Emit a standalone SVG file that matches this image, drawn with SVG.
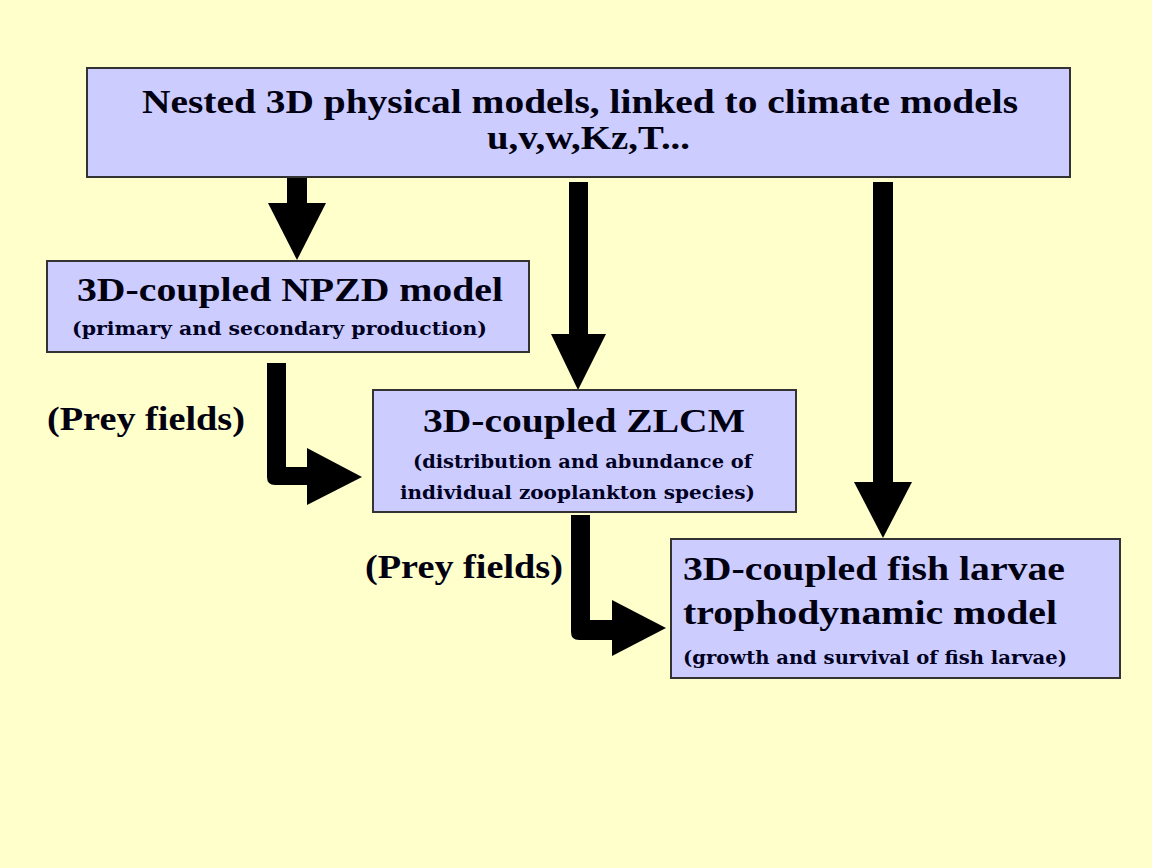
<svg xmlns="http://www.w3.org/2000/svg" width="1152" height="868" viewBox="0 0 1152 868">
<style>
.box{fill:#CCCCFF;stroke:#333333;stroke-width:2}
.t{font-family:"Liberation Serif","Times New Roman",serif;font-weight:bold;font-size:34px;fill:#000011}
.s{font-family:"DejaVu Serif","Liberation Serif",serif;font-weight:bold;font-size:19px;fill:#000022}
.a{fill:#000000}
</style>
<rect x="0" y="0" width="1152" height="868" fill="#FFFFCC"/>
<g id="connectors">
<rect class="a" x="287" y="177" width="20" height="27"/>
<polygon class="a" points="268,203 326,203 297,260"/>
<rect class="a" x="569" y="182" width="19" height="153"/>
<polygon class="a" points="551,334 606,334 578,390"/>
<rect class="a" x="873" y="182" width="20" height="301"/>
<polygon class="a" points="854,482 912,482 883,538"/>
<path class="a" d="M267,363 H286 V467 H308 V485 H275 Q267,485 267,477 Z"/>
<polygon class="a" points="307,448 362,477 307,505"/>
<path class="a" d="M571,515 H590 V620 H613 V640 H579 Q571,640 571,632 Z"/>
<polygon class="a" points="612,600 666,628 612,656"/>
</g>
<g id="physical">
<rect class="box" x="87" y="68" width="983" height="109"/>
<text class="t" x="142" y="113" textLength="876" lengthAdjust="spacingAndGlyphs">Nested 3D physical models, linked to climate models</text>
<text class="t" x="487" y="149" textLength="203" lengthAdjust="spacingAndGlyphs">u,v,w,Kz,T...</text>
</g>
<g id="npzd">
<rect class="box" x="47" y="261" width="482" height="91"/>
<text class="t" x="77" y="301" textLength="426" lengthAdjust="spacingAndGlyphs">3D-coupled NPZD model</text>
<text class="s" x="72" y="335" textLength="415" lengthAdjust="spacingAndGlyphs">(primary and secondary production)</text>
</g>
<g id="zlcm">
<rect class="box" x="373" y="390" width="423" height="122"/>
<text class="t" x="423" y="432" textLength="322" lengthAdjust="spacingAndGlyphs">3D-coupled ZLCM</text>
<text class="s" x="413" y="468" textLength="339" lengthAdjust="spacingAndGlyphs">(distribution and abundance of</text>
<text class="s" x="400" y="499" textLength="355" lengthAdjust="spacingAndGlyphs">individual zooplankton species)</text>
</g>
<g id="fish">
<rect class="box" x="671" y="539" width="449" height="139"/>
<text class="t" x="683" y="580" textLength="382" lengthAdjust="spacingAndGlyphs">3D-coupled fish larvae</text>
<text class="t" x="683" y="624" textLength="374" lengthAdjust="spacingAndGlyphs">trophodynamic model</text>
<text class="s" x="683" y="664" textLength="384" lengthAdjust="spacingAndGlyphs">(growth and survival of fish larvae)</text>
</g>
<g id="labels">
<text class="t" x="47" y="430" textLength="198" lengthAdjust="spacingAndGlyphs">(Prey fields)</text>
<text class="t" x="365" y="578" textLength="198" lengthAdjust="spacingAndGlyphs">(Prey fields)</text>
</g>
</svg>
